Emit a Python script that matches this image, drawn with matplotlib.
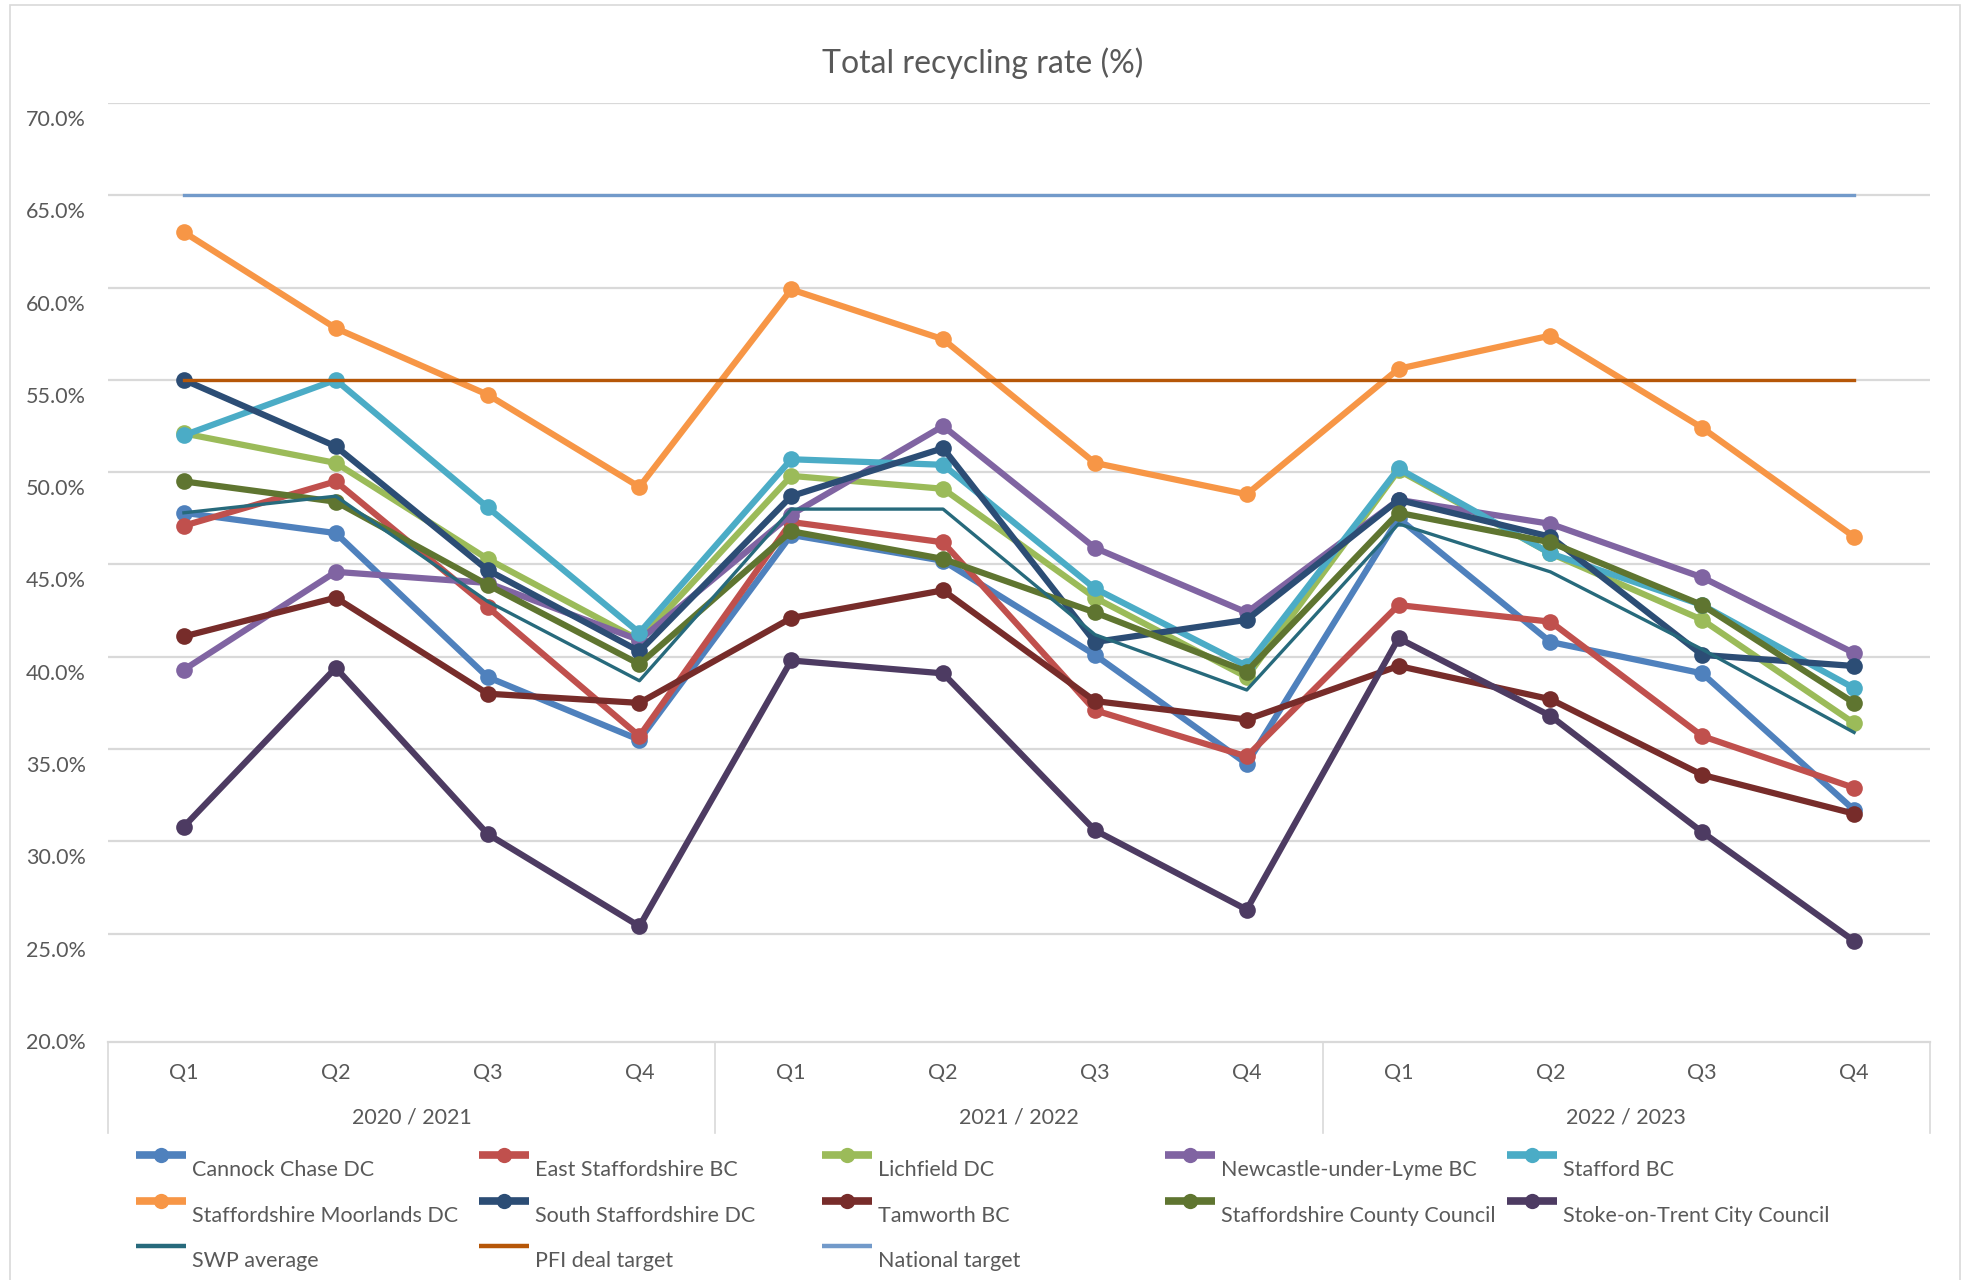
import matplotlib.pyplot as plt
from matplotlib.lines import Line2D
from matplotlib.patches import Rectangle
from matplotlib.transforms import ScaledTranslation, blended_transform_factory

plt.rcParams['font.family'] = ['Lato', 'DejaVu Sans']

# Data
quarters = ['Q1', 'Q2', 'Q3', 'Q4'] * 3
years = ['2020 / 2021', '2021 / 2022', '2022 / 2023']

series_names = ['Cannock Chase DC', 'East Staffordshire BC', 'Lichfield DC',
                'Newcastle-under-Lyme BC', 'Stafford BC', 'Staffordshire Moorlands DC',
                'South Staffordshire DC', 'Tamworth BC', 'Staffordshire County Council',
                'Stoke-on-Trent City Council', 'SWP average', 'PFI deal target',
                'National target']

cannock = [47.8, 46.7, 38.9, 35.5, 46.6, 45.2, 40.1, 34.2, 47.5, 40.8, 39.1, 31.7]
east = [47.1, 49.5, 42.7, 35.7, 47.3, 46.2, 37.1, 34.6, 42.8, 41.9, 35.7, 32.9]
lichfield = [52.1, 50.5, 45.3, 40.9, 49.8, 49.1, 43.2, 38.9, 50.1, 45.6, 42.0, 36.4]
newcastle = [39.3, 44.6, 44.0, 40.9, 47.7, 52.5, 45.9, 42.4, 48.5, 47.2, 44.3, 40.2]
stafford = [52.0, 55.0, 48.1, 41.3, 50.7, 50.4, 43.7, 39.5, 50.2, 45.6, 42.8, 38.3]
moorlands = [63.0, 57.8, 54.2, 49.2, 59.9, 57.2, 50.5, 48.8, 55.6, 57.4, 52.4, 46.5]
south = [55.0, 51.4, 44.7, 40.3, 48.7, 51.3, 40.8, 42.0, 48.5, 46.5, 40.1, 39.5]
tamworth = [41.1, 43.2, 38.0, 37.5, 42.1, 43.6, 37.6, 36.6, 39.5, 37.7, 33.6, 31.5]
staffscc = [49.5, 48.4, 43.9, 39.6, 46.8, 45.3, 42.4, 39.2, 47.8, 46.2, 42.8, 37.5]
stoke = [30.8, 39.4, 30.4, 25.4, 39.8, 39.1, 30.6, 26.3, 41.0, 36.8, 30.5, 24.6]
swp = [47.8, 48.7, 43.0, 38.7, 48.0, 48.0, 41.2, 38.2, 47.2, 44.6, 40.4, 35.9]
pfi = [55.0] * 12
national = [65.0] * 12

all_values = [cannock, east, lichfield, newcastle, stafford, moorlands, south,
              tamworth, staffscc, stoke, swp, pfi, national]
colors = ['#4F81BD', '#C0504D', '#9BBB59', '#8064A2', '#4BACC6', '#F79646',
          '#2C4D75', '#772C2A', '#5F7530', '#4D3B62', '#276A7C', '#B65708', '#729ACA']
has_marker = [True] * 10 + [False] * 3
widths = [4.5] * 10 + [2.4, 2.4, 2.4]

W, H = 1968, 1280
fig = plt.figure(figsize=(W / 100, H / 100), dpi=100)
fig.add_artist(Rectangle((10 / W, -0.01), 1950 / W, 1.01 - 5 / H,
                         transform=fig.transFigure, fill=False,
                         edgecolor='#D9D9D9', lw=1.2))

ax = fig.add_axes([108 / W, 1 - 1042 / H, (1930 - 108) / W, (1042 - 103) / H])
x = list(range(len(quarters)))

for i, (name, vals) in enumerate(zip(series_names, all_values)):
    ax.plot(x, vals, color=colors[i], lw=widths[i],
            marker='o' if has_marker[i] else None, ms=12,
            markeredgewidth=0, solid_joinstyle='round', zorder=3 + i)

ax.set_xlim(-0.5, 11.5)
ax.set_ylim(19.13, 70)
ax.set_yticks(range(20, 75, 5))
ax.set_yticklabels([f'{v:.1f}%' for v in range(20, 75, 5)])
ax.set_xticks(x)
ax.set_xticklabels(quarters)
ax.tick_params(axis='both', length=0, labelsize=15.5, labelcolor='#595959')
ax.tick_params(axis='y', pad=16)
ax.tick_params(axis='x', pad=15)
ax.grid(axis='y', color='#D9D9D9', lw=1.6, zorder=0)
ax.yaxis.get_gridlines()[0].set_visible(False)
for s in ['top', 'right', 'left']:
    ax.spines[s].set_visible(False)
ax.spines['bottom'].set_color('#D9D9D9')
ax.spines['bottom'].set_linewidth(1.6)

offset = ScaledTranslation(0, -15 / 100, fig.dpi_scale_trans)
for lab in ax.get_yticklabels():
    lab.set_transform(lab.get_transform() + offset)

# year group labels and separators
trans = blended_transform_factory(ax.transData, ax.transAxes)
for k, yr in enumerate(years):
    ax.text(4 * k + 1.5, -0.08, yr, transform=trans, ha='center', va='center',
            fontsize=15.5, color='#595959')
for k in range(4):
    ax.plot([4 * k - 0.5, 4 * k - 0.5], [0, -0.097], transform=trans,
            color='#D9D9D9', lw=1.2, clip_on=False)

fig.text(983 / W, 1 - 63 / H, 'Total recycling rate (%)', ha='center', va='center',
         fontsize=23, color='#595959')

# legend
col_x = [136, 479, 822, 1165, 1507]
row_y = [1155, 1201, 1246]
for i, name in enumerate(series_names):
    r, c = divmod(i, 5)
    hx, hy = col_x[c], row_y[r]
    fig.add_artist(Line2D([hx / W, (hx + 50) / W], [1 - hy / H, 1 - hy / H],
                          transform=fig.transFigure, color=colors[i],
                          lw=5.5 if has_marker[i] else 3.2, solid_capstyle='butt'))
    if has_marker[i]:
        fig.add_artist(Line2D([(hx + 25) / W], [1 - hy / H], transform=fig.transFigure,
                              color=colors[i], marker='o', ms=11, markeredgewidth=0))
    fig.text((hx + 56) / W, 1 - (hy + 15) / H, name, ha='left', va='center',
             fontsize=15.5, color='#595959')

fig.savefig('out.png', dpi=100)
